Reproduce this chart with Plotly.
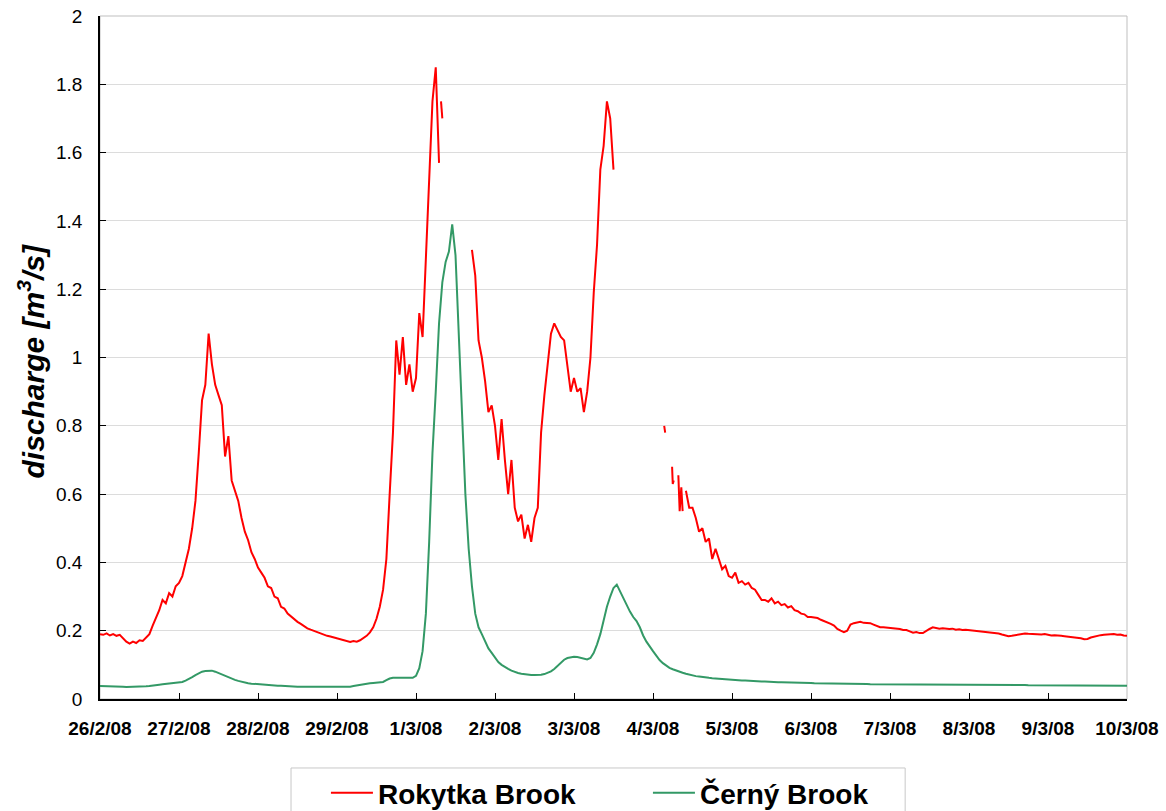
import pandas as pd
import plotly.graph_objects as go

# ---------------- data (hourly readings, start 26/2/2008 00:00) ----------------
start_time = "2008-02-26 00:00"

# Rokytka Brook discharge [m3/s], one value per hour, None = missing record
rok_d01 = [0.19, 0.188, 0.192, 0.186, 0.19, 0.185, 0.188, 0.178, 0.168, 0.162, 0.168, 0.164,
           0.172, 0.17, 0.18, 0.19, 0.215, 0.235, 0.26, 0.29, 0.28, 0.31, 0.30, 0.33]
rok_d02 = [0.34, 0.36, 0.40, 0.44, 0.50, 0.58, 0.72, 0.875, 0.92, 1.07, 0.98, 0.92,
           0.89, 0.86, 0.71, 0.77, 0.64, 0.61, 0.58, 0.53, 0.49, 0.465, 0.43, 0.41]
rok_d03 = [0.385, 0.37, 0.355, 0.33, 0.325, 0.30, 0.295, 0.27, 0.265, 0.25, 0.242, 0.232,
           0.226, 0.22, 0.213, 0.207, 0.203, 0.199, 0.196, 0.191, 0.189, 0.185, 0.183, 0.18]
rok_d04 = [0.178, 0.176, 0.172, 0.17, 0.167, 0.17, 0.168, 0.172, 0.178, 0.185, 0.195, 0.21,
           0.235, 0.27, 0.32, 0.41, 0.60, 0.78, 1.05, 0.95, 1.06, 0.92, 0.98, 0.90]
rok_d05 = [0.94, 1.13, 1.06, 1.30, 1.50, 1.75, 1.85, 1.57, None, None, None, None,
           None, None, None, None, None, 1.315, 1.24, 1.05, 1.0, 0.93, 0.84, 0.86]
rok_d06 = [0.80, 0.70, 0.82, 0.70, 0.60, 0.70, 0.56, 0.52, 0.54, 0.47, 0.51, 0.46,
           0.53, 0.56, 0.78, 0.89, 0.98, 1.07, 1.10, 1.08, 1.06, 1.05, 0.98, 0.90]
rok_d07 = [0.94, 0.90, 0.91, 0.84, 0.90, 1.0, 1.19, 1.33, 1.55, 1.62, 1.75, 1.70,
           1.55, None, None, None, None, None, None, None, None, None, None, None]
rok_d08 = [None, None, None, None, None, None, None, None, None, None, 0.61, 0.56,
           0.56, 0.53, 0.49, 0.50, 0.46, 0.47, 0.41, 0.44, 0.41, 0.38, 0.39, 0.36]
rok_d09 = [0.355, 0.37, 0.34, 0.345, 0.335, 0.34, 0.325, 0.32, 0.305, 0.29, 0.29, 0.285,
           0.295, 0.28, 0.285, 0.275, 0.278, 0.268, 0.272, 0.26, 0.257, 0.25, 0.248, 0.24]
rok_d10 = [0.24, 0.238, 0.237, 0.232, 0.228, 0.226, 0.22, 0.215, 0.205, 0.2, 0.196, 0.2,
           0.218, 0.222, 0.225, 0.226, 0.223, 0.222, 0.222, 0.218, 0.214, 0.21, 0.21, 0.209]
rok_d11 = [0.208, 0.208, 0.206, 0.205, 0.202, 0.202, 0.198, 0.194, 0.196, 0.193, 0.193, 0.2,
           0.205, 0.21, 0.208, 0.206, 0.207, 0.205, 0.205, 0.206, 0.203, 0.204, 0.202, 0.203]
rok_d12 = [0.202, 0.2, 0.2, 0.199, 0.198, 0.196, 0.196, 0.194, 0.193, 0.192, 0.189, 0.186,
           0.184, 0.185, 0.187, 0.19, 0.192, 0.192, 0.191, 0.19, 0.19, 0.19, 0.189, 0.19]
rok_d13 = [0.188, 0.186, 0.187, 0.185, 0.185, 0.184, 0.183, 0.182, 0.182, 0.18, 0.178, 0.175,
           0.176, 0.18, 0.183, 0.185, 0.187, 0.188, 0.189, 0.19, 0.19, 0.188, 0.189, 0.186]
rok_end = [0.185]

# short isolated Rokytka records inside the gaps (hours since start, values)
rok_frag_hours = [[103.6, 104.0], [171.4, 171.7], [173.8, 174.0, 174.3], [175.7, 176.1, 176.6, 177.0]]
rok_frag_values = [[1.75, 1.70], [0.80, 0.78], [0.68, 0.63, 0.64], [0.655, 0.55, 0.62, 0.55]]

# Cerny Brook discharge [m3/s], one value per hour
cer_d01 = [0.038, 0.038, 0.037, 0.037, 0.037, 0.036, 0.036, 0.036, 0.035, 0.035, 0.035, 0.035,
           0.035, 0.036, 0.037, 0.038, 0.04, 0.041, 0.042, 0.043, 0.044, 0.045, 0.046, 0.046]
cer_d02 = [0.047, 0.05, 0.054, 0.058, 0.064, 0.07, 0.076, 0.08, 0.082, 0.083, 0.083, 0.08,
           0.076, 0.072, 0.066, 0.063, 0.06, 0.056, 0.053, 0.05, 0.048, 0.046, 0.045, 0.044]
cer_d03 = [0.043, 0.042, 0.041, 0.041, 0.04, 0.04, 0.039, 0.039, 0.038, 0.038, 0.037, 0.037,
           0.036, 0.036, 0.036, 0.035, 0.035, 0.035, 0.035, 0.035, 0.034, 0.034, 0.034, 0.034]
cer_d04 = [0.034, 0.034, 0.034, 0.034, 0.036, 0.038, 0.04, 0.042, 0.044, 0.045, 0.046, 0.047,
           0.048, 0.048, 0.05, 0.055, 0.06, 0.062, 0.062, 0.061, 0.06, 0.06, 0.06, 0.062]
cer_d05 = [0.068, 0.09, 0.14, 0.25, 0.46, 0.72, 0.90, 1.10, 1.22, 1.28, 1.31, 1.39,
           1.30, 1.07, 0.83, 0.60, 0.44, 0.33, 0.25, 0.21, 0.19, 0.167, 0.148, 0.135]
cer_d06 = [0.12, 0.108, 0.1, 0.093, 0.088, 0.083, 0.079, 0.076, 0.074, 0.072, 0.071, 0.07,
           0.07, 0.07, 0.071, 0.073, 0.076, 0.081, 0.088, 0.097, 0.106, 0.115, 0.12, 0.123]
cer_d07 = [0.124, 0.123, 0.12, 0.117, 0.116, 0.12, 0.135, 0.16, 0.19, 0.23, 0.27, 0.30,
           0.325, 0.335, 0.315, 0.298, 0.275, 0.256, 0.24, 0.228, 0.21, 0.186, 0.168, 0.152]
cer_d08 = [0.14, 0.127, 0.114, 0.105, 0.097, 0.091, 0.087, 0.083, 0.08, 0.077, 0.074, 0.071,
           0.069, 0.067, 0.066, 0.064, 0.063, 0.062, 0.061, 0.06, 0.059, 0.058, 0.057, 0.056]
cer_d09 = [0.056, 0.055, 0.055, 0.054, 0.054, 0.053, 0.053, 0.052, 0.052, 0.051, 0.051, 0.05,
           0.05, 0.05, 0.049, 0.049, 0.049, 0.048, 0.048, 0.048, 0.048, 0.047, 0.047, 0.047]
cer_d10 = [0.047, 0.046, 0.046, 0.046, 0.046, 0.045, 0.045, 0.045, 0.045, 0.045, 0.045, 0.044,
           0.044, 0.044, 0.044, 0.044, 0.044, 0.044, 0.043, 0.043, 0.043, 0.043, 0.043, 0.043]
cer_d11 = [0.043, 0.043, 0.043, 0.043, 0.043, 0.043, 0.043, 0.043, 0.043, 0.043, 0.043, 0.043,
           0.042, 0.042, 0.042, 0.042, 0.042, 0.042, 0.042, 0.042, 0.042, 0.042, 0.042, 0.042]
cer_d12 = [0.042, 0.042, 0.042, 0.042, 0.042, 0.042, 0.041, 0.041, 0.041, 0.041, 0.041, 0.041,
           0.041, 0.041, 0.041, 0.041, 0.041, 0.041, 0.040, 0.040, 0.040, 0.040, 0.040, 0.040]
cer_d13 = [0.040, 0.040, 0.040, 0.040, 0.040, 0.040, 0.040, 0.040, 0.040, 0.040, 0.040, 0.039,
           0.039, 0.039, 0.039, 0.039, 0.039, 0.039, 0.039, 0.039, 0.039, 0.039, 0.039, 0.039]
cer_end = [0.039]

tick_labels = ["26/2/08", "27/2/08", "28/2/08", "29/2/08", "1/3/08", "2/3/08", "3/3/08",
               "4/3/08", "5/3/08", "6/3/08", "7/3/08", "8/3/08", "9/3/08", "10/3/08"]
series_names = ["Rokytka Brook", "Černý Brook"]
series_colors = ["#ff0000", "#339966"]

# ---------------- build ----------------
rokytka = (rok_d01 + rok_d02 + rok_d03 + rok_d04 + rok_d05 + rok_d06 + rok_d07 +
           rok_d08 + rok_d09 + rok_d10 + rok_d11 + rok_d12 + rok_d13 + rok_end)
cerny = (cer_d01 + cer_d02 + cer_d03 + cer_d04 + cer_d05 + cer_d06 + cer_d07 +
         cer_d08 + cer_d09 + cer_d10 + cer_d11 + cer_d12 + cer_d13 + cer_end)

t0 = pd.Timestamp(start_time)
times_r = pd.date_range(t0, periods=len(rokytka), freq="h")
times_c = pd.date_range(t0, periods=len(cerny), freq="h")
tick_dates = pd.date_range(t0, periods=len(tick_labels), freq="D")

fig = go.Figure()
fig.add_trace(go.Scatter(x=times_r, y=rokytka, mode="lines", name=series_names[0],
                         line=dict(color=series_colors[0], width=2), connectgaps=False,
                         legendgroup="r"))
for hrs, vals in zip(rok_frag_hours, rok_frag_values):
    fig.add_trace(go.Scatter(x=t0 + pd.to_timedelta(hrs, unit="h"), y=vals, mode="lines",
                             line=dict(color=series_colors[0], width=2), showlegend=False,
                             legendgroup="r"))
fig.add_trace(go.Scatter(x=times_c, y=cerny, mode="lines", name=series_names[1],
                         line=dict(color=series_colors[1], width=2), legendgroup="c"))

FONT = "Liberation Sans, Arial, Helvetica, sans-serif"

fig.update_layout(
    width=1166, height=811,
    margin=dict(l=100, r=39, t=16, b=112, autoexpand=False),
    paper_bgcolor="white", plot_bgcolor="white",
    font=dict(family=FONT, color="black"),
    showlegend=True,
    legend=dict(orientation="h", x=0.22, y=0.0222, xref="paper", yref="container",
                xanchor="left", yanchor="middle",
                font=dict(family=FONT, size=28, color="black", weight="bold"),
                bgcolor="rgba(0,0,0,0)", borderwidth=0,
                itemwidth=42, entrywidth=265, entrywidthmode="pixels"),
    shapes=[
        dict(type="rect", xref="paper", yref="paper", x0=0, x1=1, y0=0, y1=1,
             line=dict(color="#bfbfbf", width=1), layer="below"),
        dict(type="rect", xref="paper", yref="paper", x0=0.186, x1=0.784, y0=-0.101, y1=-0.2,
             line=dict(color="#c8c8c8", width=1), layer="below"),
    ],
    annotations=[
        dict(text="<b><i>discharge [m<sup>3</sup>/s]</i></b>", xref="paper", yref="paper",
             x=0, y=0.5, xanchor="center", yanchor="middle", xshift=-69, yshift=-4,
             textangle=-90, showarrow=False, font=dict(family=FONT, size=30, color="black")),
    ],
)

fig.update_xaxes(
    type="date", range=[tick_dates[0], tick_dates[-1]],
    tickvals=tick_dates, ticktext=tick_labels, automargin=False,
    ticks="inside", ticklen=6, tickwidth=1, tickcolor="black",
    showline=True, linecolor="black", linewidth=1.5,
    showgrid=False, zeroline=False,
    tickfont=dict(family=FONT, size=19, color="black", weight="bold"),
    ticklabelstandoff=11,
)
fig.update_yaxes(
    range=[0, 2], tick0=0, dtick=0.2, automargin=False,
    ticks="inside", ticklen=6, tickwidth=1, tickcolor="black",
    showline=True, linecolor="black", linewidth=1.5,
    showgrid=True, gridcolor="#dcdcdc", gridwidth=1, zeroline=False,
    tickfont=dict(family=FONT, size=19, color="black"),
    ticklabelstandoff=12,
)

fig.write_html("out.html")
